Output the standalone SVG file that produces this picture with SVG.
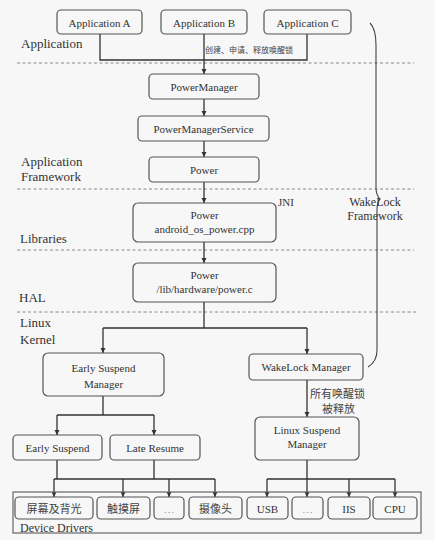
<svg xmlns="http://www.w3.org/2000/svg" width="435" height="540" viewBox="0 0 435 540">
<defs>
<marker id="arr" markerWidth="6" markerHeight="6" refX="5" refY="3" orient="auto" markerUnits="userSpaceOnUse">
<path d="M0,0.5 L5,3 L0,5.5 Z" fill="#333"/>
</marker>
<style>
.bx{fill:#f7f7f7;stroke:#555;stroke-width:1.2}
.t{font-family:"Liberation Serif","Times New Roman",serif;font-size:11px;fill:#333;text-anchor:middle}
.tc{font-family:"Liberation Serif","Noto Sans CJK SC",serif;font-size:11px;fill:#444;text-anchor:middle}
.lay{font-family:"Liberation Serif","Times New Roman",serif;font-size:13px;fill:#333}
.dash{stroke:#888;stroke-width:1;stroke-dasharray:3,2.5;fill:none}
.c{stroke:#333;stroke-width:1.3;fill:none}
.ca{stroke:#333;stroke-width:1.3;fill:none;marker-end:url(#arr)}
</style>
</defs>
<rect x="0" y="0" width="435" height="540" fill="#f7f7f7"/>

<g id="layers">
<line class="dash" x1="17" y1="63" x2="414" y2="63"/>
<line class="dash" x1="17" y1="189" x2="414" y2="189"/>
<line class="dash" x1="17" y1="250" x2="414" y2="250"/>
<line class="dash" x1="17" y1="312" x2="416" y2="312"/>
<text class="lay" x="21" y="48">Application</text>
<text class="lay" x="21" y="166">Application</text>
<text class="lay" x="21" y="181">Framework</text>
<text class="lay" x="20" y="243">Libraries</text>
<text class="lay" x="19" y="302">HAL</text>
<text class="lay" x="20" y="327">Linux</text>
<text class="lay" x="20" y="344">Kernel</text>
</g>

<g id="connectors">
<path class="c" d="M100,34 V60 H307 V34"/>
<path class="ca" d="M204,34 V74"/>
<path class="ca" d="M204,99 V116"/>
<path class="ca" d="M204,141 V157"/>
<path class="ca" d="M204,182 V203"/>
<path class="ca" d="M204,242 V263"/>
<path class="c" d="M204,302 V328 M103,328 H307"/>
<path class="ca" d="M103,328 V353"/>
<path class="ca" d="M307,328 V354"/>
<path class="c" d="M103,396 V415 M57,415 H154"/>
<path class="ca" d="M57,415 V435"/>
<path class="ca" d="M154,415 V435"/>
<path class="ca" d="M307,380 V417"/>
<path class="c" d="M57,460 V479 M154,460 V479 M54,479 H215"/>
<path class="ca" d="M54,479 V497"/>
<path class="ca" d="M123,479 V497"/>
<path class="ca" d="M169,479 V497"/>
<path class="ca" d="M215,479 V497"/>
<path class="c" d="M307,460 V479 M267,479 H395"/>
<path class="ca" d="M267,479 V497"/>
<path class="ca" d="M307,479 V497"/>
<path class="ca" d="M349,479 V497"/>
<path class="ca" d="M395,479 V497"/>
<text x="205" y="53" style="font-family:'Noto Sans CJK SC',sans-serif;font-size:8px;fill:#444">创建、申请、释放唤醒锁</text>
<text x="310" y="398" style="font-family:'Noto Sans CJK SC',sans-serif;font-size:11px;fill:#444">所有唤醒锁</text>
<text x="322" y="413" style="font-family:'Noto Sans CJK SC',sans-serif;font-size:11px;fill:#444">被释放</text>
<text x="278" y="206" style="font-family:'Liberation Serif',serif;font-size:11px;fill:#333">JNI</text>
</g>

<g id="wakelock-brace">
<path d="M370,23 C374,27 376,34 376,45 L376,188 C376,194 378,197 380,199 C378,201 377,204 377,210 L377,350 C377,359 373,364 368,367" fill="none" stroke="#444" stroke-width="1.1"/>
<text x="375" y="206" style="font-family:'Liberation Serif',serif;font-size:12px;fill:#333;text-anchor:middle">WakeLock</text>
<text x="375" y="220" style="font-family:'Liberation Serif',serif;font-size:12px;fill:#333;text-anchor:middle">Framework</text>
</g>

<g id="appA"><rect class="bx" x="57" y="10" width="85" height="24" rx="4"/><text class="t" x="99.5" y="27">Application A</text></g>
<g id="appB"><rect class="bx" x="161" y="10" width="86" height="24" rx="4"/><text class="t" x="204" y="27">Application B</text></g>
<g id="appC"><rect class="bx" x="264" y="10" width="87" height="24" rx="4"/><text class="t" x="307.5" y="27">Application C</text></g>
<g id="powerManager"><rect class="bx" x="149" y="74" width="110" height="25" rx="4"/><text class="t" x="204" y="91">PowerManager</text></g>
<g id="powerManagerService"><rect class="bx" x="138" y="116" width="131" height="25" rx="4"/><text class="t" x="203.5" y="133">PowerManagerService</text></g>
<g id="powerFw"><rect class="bx" x="149" y="157" width="110" height="25" rx="4"/><text class="t" x="204" y="174">Power</text></g>
<g id="powerJni"><rect class="bx" x="133" y="203" width="143" height="39" rx="5"/><text class="t" x="204.5" y="219">Power</text><text class="t" x="204.5" y="233">android_os_power.cpp</text></g>
<g id="powerHal"><rect class="bx" x="133" y="263" width="143" height="39" rx="5"/><text class="t" x="204.5" y="279">Power</text><text class="t" x="204.5" y="293">/lib/hardware/power.c</text></g>
<g id="earlySuspendManager"><rect class="bx" x="43" y="353" width="121" height="43" rx="5"/><text class="t" x="103.5" y="372">Early Suspend</text><text class="t" x="103.5" y="388">Manager</text></g>
<g id="wakeLockManager"><rect class="bx" x="249" y="354" width="114" height="26" rx="4"/><text class="t" x="306" y="371">WakeLock Manager</text></g>
<g id="earlySuspend"><rect class="bx" x="13" y="435" width="89" height="25" rx="4"/><text class="t" x="57.5" y="452">Early Suspend</text></g>
<g id="lateResume"><rect class="bx" x="110" y="435" width="90" height="25" rx="4"/><text class="t" x="155" y="452">Late Resume</text></g>
<g id="linuxSuspendManager"><rect class="bx" x="255" y="417" width="104" height="43" rx="5"/><text class="t" x="307" y="434">Linux Suspend</text><text class="t" x="307" y="448">Manager</text></g>

<g id="deviceDrivers">
<rect x="13" y="492" width="408" height="41" fill="none" stroke="#666" stroke-width="1.2"/>
<text x="20" y="532" style="font-family:'Liberation Serif',serif;font-size:12px;fill:#333">Device Drivers</text>
</g>
<g id="dd-screen"><rect class="bx" x="15" y="497" width="78" height="22" rx="4"/><text class="tc" x="54" y="513">屏幕及背光</text></g>
<g id="dd-touch"><rect class="bx" x="97" y="497" width="53" height="22" rx="4"/><text class="tc" x="123.5" y="513">触摸屏</text></g>
<g id="dd-etc1"><rect class="bx" x="154" y="497" width="30" height="22" rx="4"/><text class="tc" x="169" y="513" style="fill:#999">…</text></g>
<g id="dd-camera"><rect class="bx" x="189" y="497" width="53" height="22" rx="4"/><text class="tc" x="215.5" y="513">摄像头</text></g>
<g id="dd-usb"><rect class="bx" x="247" y="497" width="41" height="22" rx="4"/><text class="t" x="267.5" y="513">USB</text></g>
<g id="dd-etc2"><rect class="bx" x="292" y="497" width="31" height="22" rx="4"/><text class="tc" x="307.5" y="513" style="fill:#999">…</text></g>
<g id="dd-iis"><rect class="bx" x="328" y="497" width="42" height="22" rx="4"/><text class="t" x="349" y="513">IIS</text></g>
<g id="dd-cpu"><rect class="bx" x="373" y="497" width="44" height="22" rx="4"/><text class="t" x="395" y="513">CPU</text></g>
</svg>
